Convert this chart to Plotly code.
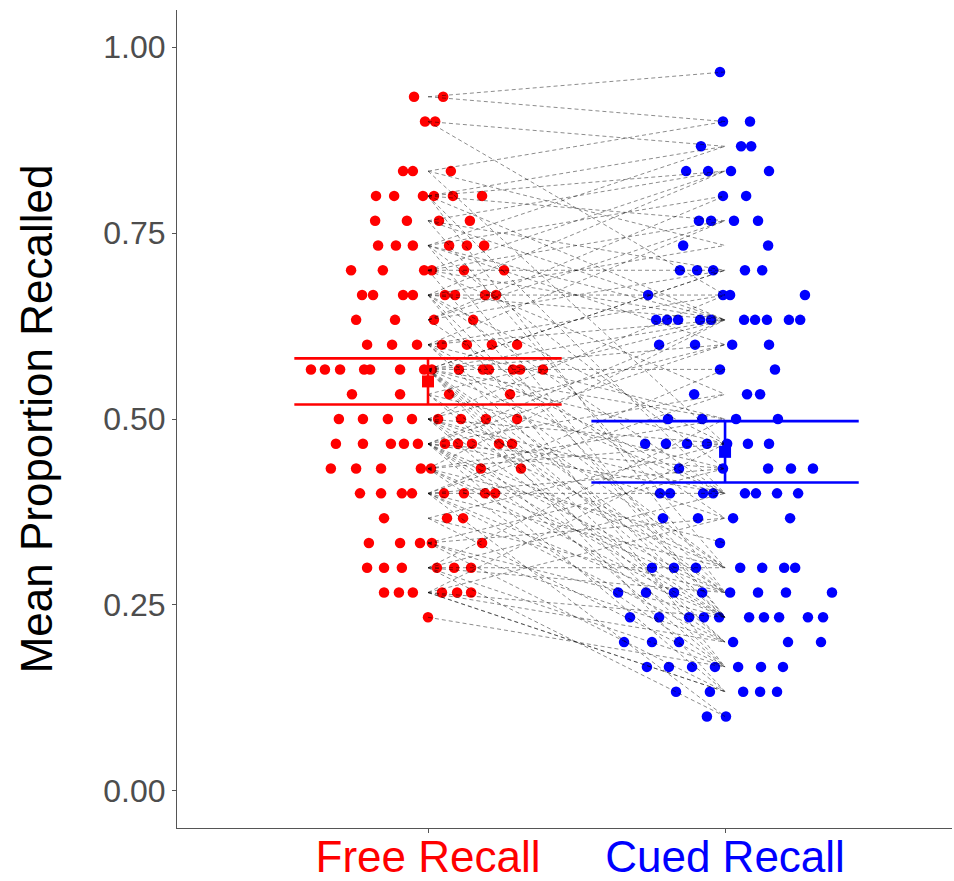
import numpy as np
import plotly.graph_objects as go

# Words recalled out of 30 per participant; position i in both lists is the same participant
n_items = 30

free_recall_counts = [
    28, 28, 27, 27, 25, 25, 25, 24, 24, 24, 24, 24, 24, 23, 23, 23, 23, 22, 22, 22,
    22, 22, 22, 21, 21, 21, 21, 21, 21, 20, 20, 20, 20, 20, 20, 20, 20, 19, 19, 19,
    19, 18, 18, 18, 18, 18, 18, 18, 17, 17, 17, 17, 17, 17, 17, 17, 17, 17, 17, 17,
    17, 17, 16, 16, 16, 16, 15, 15, 15, 15, 15, 15, 15, 15, 14, 14, 14, 14, 14, 14,
    14, 14, 14, 14, 13, 13, 13, 13, 13, 13, 13, 12, 12, 12, 12, 12, 12, 12, 12, 11,
    11, 11, 10, 10, 10, 10, 10, 9, 9, 9, 9, 9, 9, 8, 8, 8, 8, 8, 8, 7,
]

cued_recall_counts = [
    29, 27, 26, 20, 27, 22, 14, 26, 25, 19, 12, 23, 8, 25, 19, 21, 9, 24, 18, 7,
    26, 19, 13, 25, 21, 16, 7, 23, 19, 22, 12, 25, 20, 5, 19, 14, 8, 23, 21, 11,
    24, 19, 9, 15, 7, 20, 12, 23, 18, 6, 21, 8, 14, 19, 9, 17, 4, 12, 21, 7,
    15, 5, 19, 8, 13, 6, 18, 9, 12, 14, 7, 20, 5, 11, 16, 8, 19, 6, 13, 7,
    18, 4, 12, 9, 15, 7, 19, 5, 14, 8, 10, 17, 6, 12, 3, 9, 16, 7, 13, 5,
    14, 8, 13, 4, 11, 7, 6, 12, 5, 15, 8, 3, 9, 4, 14, 7, 6, 11, 4, 5,
]

# Horizontal spread of the dots (category units), listed from the highest score down,
# left to right within a score
free_jitter = [
    -0.047, 0.051,
    -0.010, 0.024,
    -0.084, -0.051, 0.077,
    -0.175, -0.114, -0.017, 0.020, 0.084, 0.182,
    -0.178, -0.071, 0.037, 0.141,
    -0.168, -0.108, -0.051, 0.071, 0.131, 0.189,
    -0.259, -0.152, -0.013, 0.013, 0.121, 0.256,
    -0.222, -0.185, -0.084, -0.051, 0.057, 0.091, 0.192, 0.229,
    -0.242, -0.111, 0.020, 0.152,
    -0.205, -0.121, -0.037, 0.047, 0.131, 0.215, 0.300,
    -0.394, -0.347, -0.296, -0.215, -0.195, -0.094, -0.013, 0.013, 0.104, 0.185,
    0.205, 0.286, 0.310, 0.387,
    -0.256, -0.094, 0.071, 0.276,
    -0.300, -0.219, -0.135, -0.054, 0.034, 0.111, 0.195, 0.300,
    -0.310, -0.219, -0.125, -0.081, -0.034, 0.057, 0.101, 0.148, 0.239, 0.283,
    -0.327, -0.242, -0.158, -0.024, 0.010, 0.178, 0.313,
    -0.229, -0.158, -0.088, -0.054, 0.054, 0.121, 0.192, 0.226,
    -0.148, 0.064, 0.118,
    -0.199, -0.094, -0.027, 0.013, 0.182,
    -0.205, -0.148, -0.088, 0.030, 0.088, 0.145,
    -0.148, -0.098, -0.051, 0.047, 0.098, 0.145,
    0.000,
]

cued_jitter = [
    -0.017,
    -0.007, 0.084,
    -0.081, 0.054, 0.088,
    -0.131, -0.057, 0.020, 0.148,
    -0.007, 0.071,
    -0.088, -0.047, 0.030, 0.111,
    -0.141, 0.145,
    -0.152, -0.094, -0.040, 0.067, 0.125,
    -0.259, -0.007, 0.017, 0.269,
    -0.232, -0.195, -0.158, -0.084, -0.047, 0.064, 0.101, 0.141, 0.215, 0.253,
    -0.222, -0.101, 0.024, 0.148,
    -0.017, 0.168,
    -0.104, 0.074, 0.118,
    -0.192, -0.077, 0.037, 0.178,
    -0.269, -0.199, -0.128, -0.061, 0.007, 0.077, 0.148,
    -0.155, -0.007, 0.145, 0.222, 0.296,
    -0.219, -0.185, -0.074, -0.040, 0.067, 0.104, 0.175, 0.246,
    -0.209, -0.091, 0.027, 0.219,
    -0.017,
    -0.246, -0.172, -0.098, 0.051, 0.125, 0.199, 0.236,
    -0.360, -0.266, -0.172, -0.077, 0.017, 0.111, 0.205, 0.360,
    -0.320, -0.222, -0.121, -0.071, -0.020, 0.081, 0.131, 0.182, 0.279, 0.330,
    -0.340, -0.246, -0.155, 0.027, 0.212, 0.323,
    -0.263, -0.189, -0.111, -0.034, 0.044, 0.121, 0.195,
    -0.165, -0.051, 0.061, 0.118, 0.175,
    -0.061, 0.003,
]

conditions = ["Free Recall", "Cued Recall"]
condition_colors = ["#FF0000", "#0000FF"]
y_tick_values = [0.0, 0.25, 0.50, 0.75, 1.00]
t_crit = 1.98  # two-sided 95% t quantile, df = 119

FONT = "Liberation Sans, Arial, Helvetica, sans-serif"

free = np.array(free_recall_counts) / n_items
cued = np.array(cued_recall_counts) / n_items
assert len(free) == len(cued) == len(free_jitter) == len(cued_jitter)


def spread_positions(values, centre, jitter):
    """Place each participant's dot: highest scores take the first jitter slots."""
    order = np.argsort(-values, kind="stable")
    xs = np.empty(len(values))
    xs[order] = centre + np.array(jitter)
    return xs


fig = go.Figure()

# Individual participant dots
for pos, (vals, jit, col) in enumerate(
    [(free, free_jitter, condition_colors[0]), (cued, cued_jitter, condition_colors[1])], start=1
):
    fig.add_trace(go.Scatter(
        x=spread_positions(vals, pos, jit), y=vals, mode="markers",
        marker=dict(color=col, size=10.5, line=dict(width=0)),
        showlegend=False, hoverinfo="skip",
    ))

# Dashed lines joining each participant's two scores
for f, c in zip(free, cued):
    fig.add_trace(go.Scatter(
        x=[1, 2], y=[f, c], mode="lines",
        line=dict(color="rgba(0,0,0,0.45)", width=1, dash="4px,3px"),
        showlegend=False, hoverinfo="skip",
    ))

# Mean with 95% confidence interval per condition
half_width = 0.45
for pos, (vals, col) in enumerate([(free, condition_colors[0]), (cued, condition_colors[1])], start=1):
    m = vals.mean()
    ci = t_crit * vals.std(ddof=1) / np.sqrt(len(vals))
    lo, hi = m - ci, m + ci
    fig.add_trace(go.Scatter(
        x=[pos - half_width, pos + half_width, None, pos - half_width, pos + half_width, None, pos, pos],
        y=[hi, hi, None, lo, lo, None, lo, hi],
        mode="lines", line=dict(color=col, width=2.6),
        showlegend=False, hoverinfo="skip",
    ))
    fig.add_trace(go.Scatter(
        x=[pos], y=[m], mode="markers",
        marker=dict(symbol="square", color=col, size=12, line=dict(width=0)),
        showlegend=False, hoverinfo="skip",
    ))

tick_text = [
    f"<span style='color:{col}'>{name}</span>" for name, col in zip(conditions, condition_colors)
]

fig.update_layout(
    width=954, height=881,
    margin=dict(l=177, r=2, t=10, b=53),
    paper_bgcolor="white", plot_bgcolor="white",
    font=dict(family=FONT),
    xaxis=dict(
        range=[0.155, 2.764], tickvals=[1, 2], ticktext=tick_text,
        tickfont=dict(size=44, family=FONT),
        ticklabelstandoff=-14,
        showgrid=False, zeroline=False,
        showline=True, linecolor="#555555", linewidth=1,
        ticks="outside", ticklen=4, tickcolor="#555555", tickwidth=1,
        automargin=False,
    ),
    yaxis=dict(
        range=[-0.05, 1.05], tickvals=y_tick_values, tickformat=".2f",
        tickfont=dict(size=32, color="#4D4D4D", family=FONT),
        showgrid=False, zeroline=False,
        showline=True, linecolor="#555555", linewidth=1,
        ticks="outside", ticklen=4, tickcolor="#555555", tickwidth=1,
        title=dict(text="Mean Proportion Recalled", font=dict(size=44, color="black", family=FONT),
                   standoff=36),
        automargin=False,
    ),
)

fig.write_html("out.html")
